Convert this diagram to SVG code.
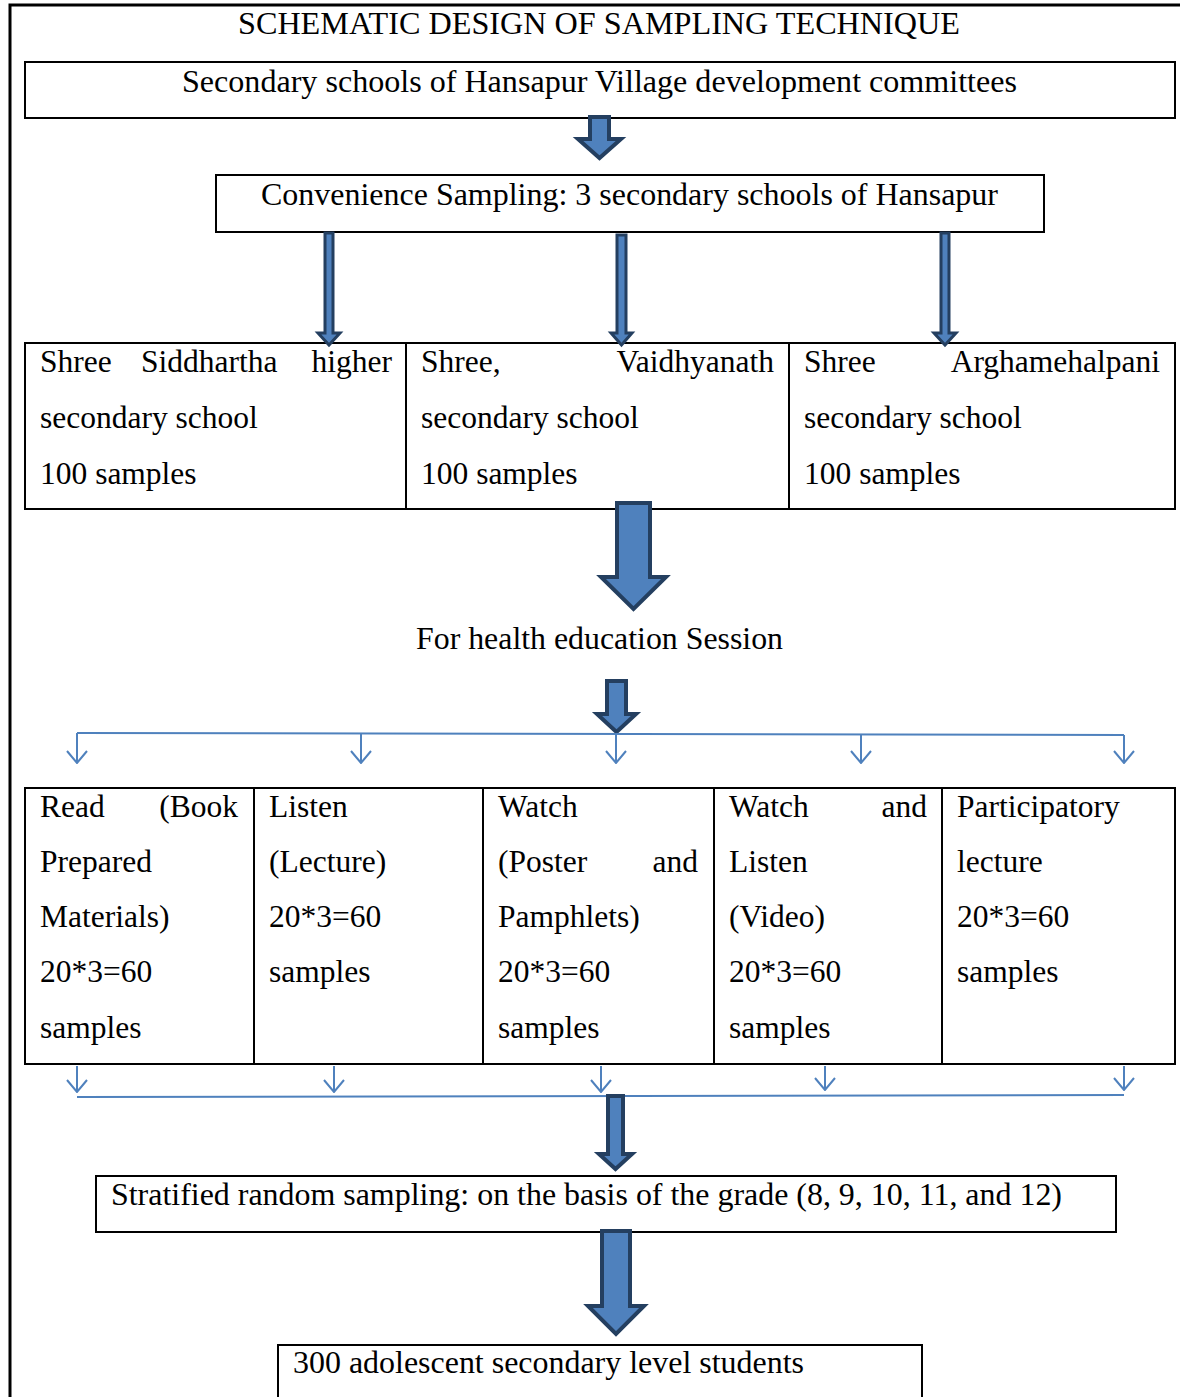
<svg xmlns="http://www.w3.org/2000/svg" width="1180" height="1397" viewBox="0 0 1180 1397">
<defs>
<style>
text{font-family:"Liberation Serif","Times New Roman",serif;font-size:31.5px;fill:#000}
.box{fill:#fff;stroke:#000;stroke-width:2}
.blk{fill:#4F81BD;stroke:#243F60;stroke-width:4;stroke-linejoin:miter}
.thin{fill:#4F81BD;stroke:#243F60;stroke-width:3}
.bl{fill:none;stroke:#4F81BD;stroke-width:2}
.e{text-anchor:end}
</style>
<marker id="v" viewBox="0 0 14 22" refX="13" refY="11" markerWidth="14" markerHeight="22" markerUnits="userSpaceOnUse" orient="auto">
<path d="M1,1 L13,11 L1,21" fill="none" stroke="#4F81BD" stroke-width="2"/>
</marker>
</defs>
<rect width="1180" height="1397" fill="#fff"/>
<path d="M10,1397 L10,5 L1180,5" fill="none" stroke="#000" stroke-width="3"/>
<text id="title" x="599" y="34" text-anchor="middle" textLength="722" lengthAdjust="spacingAndGlyphs">SCHEMATIC DESIGN OF SAMPLING TECHNIQUE</text>

<g id="n1"><rect class="box" x="25" y="62" width="1150" height="56"/><text x="182" y="92" textLength="835" lengthAdjust="spacingAndGlyphs">Secondary schools of Hansapur Village development committees</text></g>
<g id="n2"><rect class="box" x="216" y="175" width="828" height="57"/><text x="261" y="205" textLength="737" lengthAdjust="spacingAndGlyphs">Convenience Sampling: 3 secondary schools of Hansapur</text></g>

<g id="n3">
<rect class="box" x="25" y="343" width="1150" height="166"/>
<line x1="406" y1="343" x2="406" y2="509" stroke="#000" stroke-width="2"/>
<line x1="789" y1="343" x2="789" y2="509" stroke="#000" stroke-width="2"/>
<text x="40" y="372">Shree</text><text x="141" y="372">Siddhartha</text><text class="e" x="392" y="372">higher</text>
<text x="40" y="428">secondary school</text>
<text x="40" y="484">100 samples</text>
<text x="421" y="372">Shree,</text><text class="e" x="774" y="372">Vaidhyanath</text>
<text x="421" y="428">secondary school</text>
<text x="421" y="484">100 samples</text>
<text x="804" y="372">Shree</text><text class="e" x="1160" y="372">Arghamehalpani</text>
<text x="804" y="428">secondary school</text>
<text x="804" y="484">100 samples</text>
</g>

<text id="n4" x="416" y="649" textLength="367" lengthAdjust="spacingAndGlyphs">For health education Session</text>

<g id="n5">
<rect class="box" x="25" y="788" width="1150" height="276"/>
<line x1="254" y1="788" x2="254" y2="1064" stroke="#000" stroke-width="2"/>
<line x1="483" y1="788" x2="483" y2="1064" stroke="#000" stroke-width="2"/>
<line x1="714" y1="788" x2="714" y2="1064" stroke="#000" stroke-width="2"/>
<line x1="942" y1="788" x2="942" y2="1064" stroke="#000" stroke-width="2"/>
<text x="40" y="817">Read</text><text class="e" x="238" y="817">(Book</text>
<text x="40" y="872">Prepared</text>
<text x="40" y="927">Materials)</text>
<text x="40" y="982">20*3=60</text>
<text x="40" y="1038">samples</text>
<text x="269" y="817">Listen</text>
<text x="269" y="872">(Lecture)</text>
<text x="269" y="927">20*3=60</text>
<text x="269" y="982">samples</text>
<text x="498" y="817">Watch</text>
<text x="498" y="872">(Poster</text><text class="e" x="698" y="872">and</text>
<text x="498" y="927">Pamphlets)</text>
<text x="498" y="982">20*3=60</text>
<text x="498" y="1038">samples</text>
<text x="729" y="817">Watch</text><text class="e" x="927" y="817">and</text>
<text x="729" y="872">Listen</text>
<text x="729" y="927">(Video)</text>
<text x="729" y="982">20*3=60</text>
<text x="729" y="1038">samples</text>
<text x="957" y="817">Participatory</text>
<text x="957" y="872">lecture</text>
<text x="957" y="927">20*3=60</text>
<text x="957" y="982">samples</text>
</g>

<g id="n6"><rect class="box" x="96" y="1176" width="1020" height="56"/><text x="111" y="1205" textLength="951" lengthAdjust="spacingAndGlyphs">Stratified random sampling: on the basis of the grade (8, 9, 10, 11, and 12)</text></g>
<g id="n7"><rect class="box" x="278" y="1345" width="644" height="70"/><text x="293" y="1373" textLength="511" lengthAdjust="spacingAndGlyphs">300 adolescent secondary level students</text></g>

<g id="connectors">
<path class="blk" d="M590,117 L609,117 L609,139 L621,139 L599.5,158 L578,139 L590,139 Z"/>
<path class="thin" d="M325,233 L333,233 L333,333 L340,333 L329,345 L318,333 L325,333 Z"/>
<path class="thin" d="M617,235 L626,235 L626,333 L632,333 L621.5,345 L611,333 L617,333 Z"/>
<path class="thin" d="M941,233 L949,233 L949,333 L956,333 L945,345 L934,333 L941,333 Z"/>
<path class="blk" d="M617,503 L650,503 L650,577 L666,577 L633.5,609 L601,577 L617,577 Z"/>
<path class="blk" d="M607,681 L626,681 L626,714 L636,714 L616.5,732 L597,714 L607,714 Z"/>
<path class="bl" d="M77,733 L1124,735"/>
<line class="bl" x1="77" y1="733" x2="77" y2="763" marker-end="url(#v)"/>
<line class="bl" x1="361" y1="734" x2="361" y2="763" marker-end="url(#v)"/>
<line class="bl" x1="616" y1="734" x2="616" y2="763" marker-end="url(#v)"/>
<line class="bl" x1="861" y1="734" x2="861" y2="763" marker-end="url(#v)"/>
<line class="bl" x1="1124" y1="735" x2="1124" y2="763" marker-end="url(#v)"/>
<line class="bl" x1="77" y1="1066" x2="77" y2="1092" marker-end="url(#v)"/>
<line class="bl" x1="334" y1="1066" x2="334" y2="1092" marker-end="url(#v)"/>
<line class="bl" x1="601" y1="1066" x2="601" y2="1092" marker-end="url(#v)"/>
<line class="bl" x1="825" y1="1066" x2="825" y2="1090" marker-end="url(#v)"/>
<line class="bl" x1="1124" y1="1066" x2="1124" y2="1090" marker-end="url(#v)"/>
<path class="bl" d="M77,1097 L1124,1095"/>
<path class="blk" d="M608,1096 L623,1096 L623,1154 L632,1154 L615.5,1169 L599,1154 L608,1154 Z"/>
<path class="blk" d="M602,1231 L630,1231 L630,1306 L644,1306 L616,1334 L588,1306 L602,1306 Z"/>
</g>
</svg>
